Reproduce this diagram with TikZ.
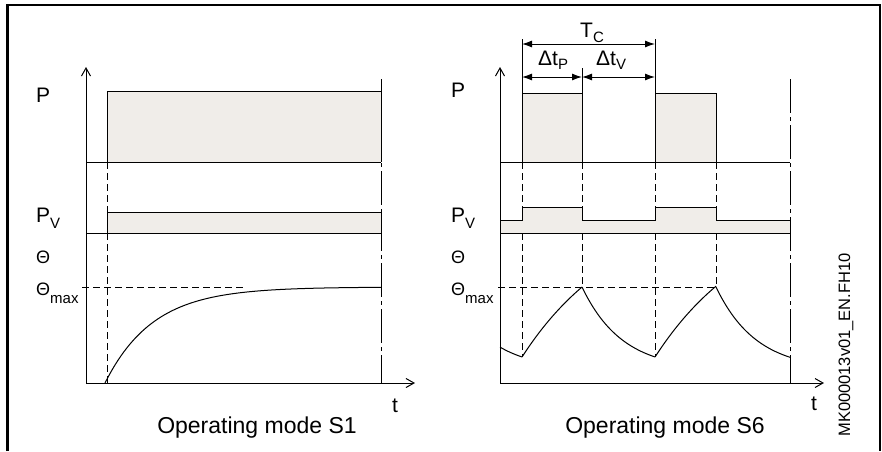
\documentclass[tikz,border=0pt]{standalone}
\usepackage{fontspec}
\setmainfont{Liberation Sans}
\usetikzlibrary{arrows.meta}
\definecolor{boxgray}{RGB}{240,237,233}
\newcommand{\lowsub}[2][6pt]{\raisebox{-#1}{\fontsize{15}{15}\selectfont #2}}

\begin{document}
\begin{tikzpicture}[x=1pt, y=-1pt,
  axes/.style={line width=1pt, {Straight Barb[length=8pt,width=9pt]}-{Straight Barb[length=8pt,width=9pt]}},
  trace/.style={line width=1pt},
  pbox/.style={trace, fill=boxgray},
  guide/.style={line width=0.9pt, dash pattern=on 7pt off 4pt},
  limit/.style={line width=1pt, dash pattern=on 34pt off 4pt on 4pt off 4pt},
  dim/.style={line width=1pt, {Latex[length=10pt,width=7pt]}-{Latex[length=10pt,width=7pt]}},
  lbl/.style={inner sep=0pt, anchor=base west, font=\fontsize{21}{21}\selectfont},
  thlbl/.style={lbl, font=\fontsize{18}{18}\selectfont},
  caption/.style={inner sep=0pt, anchor=base, font=\fontsize{23}{23}\selectfont}]
\useasboundingbox (0,0) rectangle (882,451);
% Frame
\draw[line width=2.2pt] (7.5,451) -- (7.5,5) -- (880,5);
\draw[line width=1.2pt] (880,4) -- (880,451);

% Operating mode S1
\fill[boxgray] (107,91) rectangle (381,162);
\draw[trace] (107,162) -- (107,91) -- (381,91) -- (381,162);
\draw[trace] (86,162) -- (381,162);
\draw[pbox] (107,212) rectangle (381,233);
\draw[trace] (86,233) -- (381,233);
\draw[axes] (86,67) -- (86,383) -- (415,383);
\draw[guide] (107,162) -- (107,212);
\draw[guide] (107,233) -- (107,383);
\draw[limit] (381,79) -- (381,383);
\draw[guide] (82,287) -- (245,287);
\draw[trace] plot[domain=105:381, samples=90] (\x, {287+96*exp(-(\x-105)/48)});

\node[lbl] (pA) at (36,102) {P};
\node[lbl] (pvA) at (36,222) {P\lowsub{V}};
\node[thlbl] (thA) at (36,263) {Θ};
\node[thlbl] (thmaxA) at (36,295) {Θ\lowsub[8pt]{max}};
\node[lbl] (tA) at (392,412) {t};
\node[caption] (modeA) at (257,433) {Operating mode S1};

% Operating mode S6
\fill[boxgray] (522,93) rectangle (582,162);
\fill[boxgray] (655,93) rectangle (716,162);
\draw[trace] (522,162) -- (522,93) -- (582,93) -- (582,162);
\draw[trace] (655,162) -- (655,93) -- (716,93) -- (716,162);
\draw[trace] (500,162) -- (790,162);
\draw[pbox] (500,220) -- (522,220) -- (522,207) -- (582,207) -- (582,220) -- (655,220)
  -- (655,207) -- (716,207) -- (716,220) -- (790,220) -- (790,233) -- (500,233) -- cycle;
\draw[axes] (500,67) -- (500,383) -- (824,383);
\foreach \x in {522,582,655,716}
  \draw[guide] (\x,162) -- (\x,207);
\draw[guide] (522,233) -- (522,357);
\draw[guide] (655,233) -- (655,357);
\draw[guide] (582,233) -- (582,287);
\draw[guide] (716,233) -- (716,287);
\draw[limit] (790,79) -- (790,383);
\draw[guide] (498,287) -- (716,287);
\draw[trace] plot[domain=500:522, samples=15] (\x, {370.4-83.4*exp(-(\x-449)/40)});
\draw[trace] plot[domain=522:582, samples=40] (\x, {201.9+155.1*exp(-(\x-522)/100)});
\draw[trace] plot[domain=582:655, samples=40] (\x, {370.4-83.4*exp(-(\x-582)/40)});
\draw[trace] plot[domain=655:716, samples=40] (\x, {201.9+155.1*exp(-(\x-655)/100)});
\draw[trace] plot[domain=716:790, samples=40] (\x, {370.4-83.4*exp(-(\x-716)/40)});

% Cycle dimensions
\coordinate (tcL) at (522,44);
\coordinate (tcR) at (655,44);
\coordinate (dtL) at (522,77);
\coordinate (dtM) at (582,77);
\coordinate (dtR) at (655,77);
\draw[trace] (522,39) -- (522,93);
\draw[trace] (655,39) -- (655,93);
\draw[trace] (582,68) -- (582,93);
\draw[dim] (tcL) -- (tcR);
\draw[dim] (dtL) -- (dtM);
\draw[dim] (dtM) -- (dtR);
\node[lbl] (tc) at (580,37) {T\lowsub[5pt]{C}};
\node[lbl] (dtp) at (538,65) {Δt\lowsub[4pt]{P}};
\node[lbl] (dtv) at (596,65) {Δt\lowsub[4pt]{V}};

\node[lbl] (pB) at (451,97) {P};
\node[lbl] (pvB) at (451,222) {P\lowsub{V}};
\node[thlbl] (thB) at (451,263) {Θ};
\node[thlbl] (thmaxB) at (451,295) {Θ\lowsub[8pt]{max}};
\node[lbl] (tB) at (811,410) {t};
\node[caption] (modeB) at (665,433) {Operating mode S6};

\node[rotate=90, inner sep=0pt, font=\fontsize{16.5}{16.5}\selectfont] (code) at (846,345) {MK000013v01\_EN.FH10};
\end{tikzpicture}
\end{document}
